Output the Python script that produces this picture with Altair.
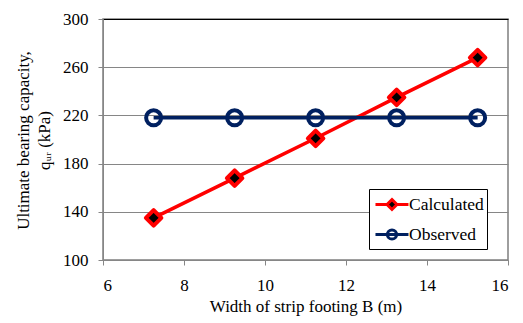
import altair as alt
import pandas as pd

# ---- data ----
width_B = [7.25, 9.25, 11.25, 13.25, 15.25]
calculated = [135, 168, 201, 235, 268]
observed = [218, 218, 218, 218, 218]
series_names = ["Calculated", "Observed"]
x_ticks = [6, 8, 10, 12, 14, 16]
y_ticks = [100, 140, 180, 220, 260, 300]

df = pd.DataFrame({
    "B": width_B + width_B,
    "q": calculated + observed,
    "series": [series_names[0]] * len(width_B) + [series_names[1]] * len(width_B),
})

RED = "#FF0000"
NAVY = "#002060"
GRAY = "#868686"
FONT = "Liberation Serif"
LABEL_FONT = "'Liberation Serif', 'Times New Roman', serif"

# legend symbols: short line with the marker in its middle
CALC_PATH = "M-0.82,0H0.23M1.13,0H2.18M0.68,-0.45L1.13,0L0.68,0.45L0.23,0Z"
OBS_PATH = "M-0.82,0H2.18M1.1,0A0.42,0.42,0,1,1,0.26,0A0.42,0.42,0,1,1,1.1,0Z"

x = alt.X(
    "B:Q",
    scale=alt.Scale(domain=[6, 16], nice=False, zero=False),
    axis=alt.Axis(
        values=x_ticks, grid=False, title="Width of strip footing B  (m)",
        labelFont=LABEL_FONT, labelFontSize=17, labelBaseline="middle", labelPadding=20,
        titleFont=FONT, titleFontSize=17, titleBaseline="middle", titleY=46,
    ),
)
y = alt.Y(
    "q:Q",
    scale=alt.Scale(domain=[100, 300], nice=False, zero=False),
    axis=alt.Axis(
        values=y_ticks, grid=True,
        gridColor={"condition": {"test": "datum.value === 300", "value": "black"}, "value": GRAY},
        title=["Ultimate bearing capacity,", "qᵤᵣ (kPa)"],
        labelFont=LABEL_FONT, labelFontSize=17, labelPadding=10,
        titleFont=FONT, titleFontSize=17,
        titleBaseline="middle", titleLineHeight=21, titleX=-80, titleY=121,
    ),
)

leg = alt.Legend(
    title=None, orient="none", legendX=266, legendY=170,
    padding=3, strokeColor="black", fillColor="white",
    labelFont=LABEL_FONT, labelFontSize=17.5, labelColor="black", labelOffset=12,
    symbolSize=484, symbolStrokeWidth=3, symbolOpacity=1, rowPadding=6,
)

stroke_scale = alt.Scale(domain=series_names, range=[RED, NAVY])

lines = alt.Chart(df).mark_line(strokeWidth=3.5).encode(
    x=x, y=y, stroke=alt.Stroke("series:N", scale=stroke_scale, legend=leg)
)

calc_pts = alt.Chart(df).transform_filter("datum.series == 'Calculated'").mark_point(
    shape="diamond", fill="black", fillOpacity=1, stroke=RED, strokeWidth=4,
    strokeJoin="round", size=240, opacity=1
).encode(x="B:Q", y="q:Q")

obs_pts = alt.Chart(df).transform_filter("datum.series == 'Observed'").mark_point(
    shape="circle", stroke=NAVY, strokeWidth=4, size=225, opacity=1
).encode(x="B:Q", y="q:Q")

legend_layer = alt.Chart(df).mark_point(filled=True, strokeWidth=3, size=0).encode(
    x="B:Q", y="q:Q",
    shape=alt.Shape("series:N", scale=alt.Scale(domain=series_names, range=[CALC_PATH, OBS_PATH]), legend=leg),
    stroke=alt.Stroke("series:N", scale=stroke_scale, legend=leg),
    fill=alt.Fill("series:N", scale=alt.Scale(domain=series_names, range=["black", "transparent"]), legend=leg),
)

chart = alt.layer(lines, obs_pts, calc_pts, legend_layer).properties(
    width=405, height=241,
    autosize=alt.AutoSizeParams(type="none"),
    padding={"left": 103, "top": 19, "right": 15, "bottom": 63},
).configure(
    font=FONT,
    style={"guide-label": {"font": LABEL_FONT}, "guide-title": {"font": FONT}},
).configure_view(
    stroke="#7f7f7f", strokeWidth=1.5
).configure_axis(
    domainColor=GRAY, tickColor=GRAY, tickSize=5,
    labelFont=LABEL_FONT, labelColor="black",
    titleFont=FONT, titleFontWeight="normal", titleColor="black",
).configure_legend(
    labelFont=LABEL_FONT,
)

chart.save("out.html", embed_options={"renderer": "svg", "actions": False})
